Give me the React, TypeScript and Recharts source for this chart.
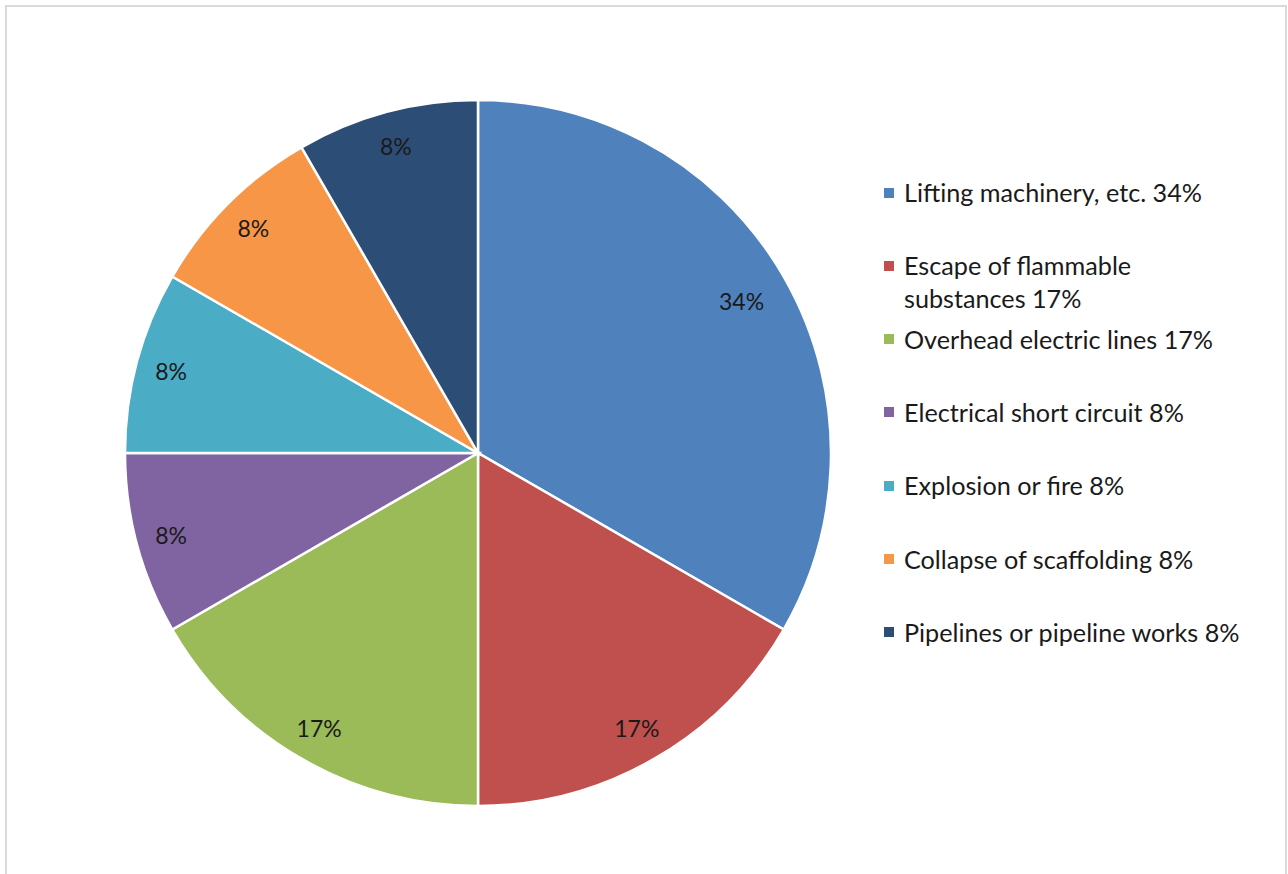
import React from 'react';
import { PieChart, Pie, Cell, Legend } from 'recharts';

const categories = [
  'Lifting machinery, etc.',
  'Escape of flammable substances',
  'Overhead electric lines',
  'Electrical short circuit',
  'Explosion or fire',
  'Collapse of scaffolding',
  'Pipelines or pipeline works',
];
const counts = [4, 2, 2, 1, 1, 1, 1];
const percentLabels = [34, 17, 17, 8, 8, 8, 8];
const colors = ['#4F81BD', '#C0504D', '#9BBB59', '#8064A2', '#4BACC6', '#F79646', '#2C4D75'];

const data = categories.map((name, i) => ({ name, value: counts[i], pct: percentLabels[i] }));

const FONT = 'Lato, "Open Sans", sans-serif';
const RAD = Math.PI / 180;

const renderLabel = (props: any) => {
  const { cx, cy, midAngle, outerRadius, index, percent } = props;
  const r = outerRadius * (percent > 0.3 ? 0.862 : 0.9);
  const x = cx + r * Math.cos(-midAngle * RAD);
  const y = cy + r * Math.sin(-midAngle * RAD);
  return (
    <text x={x} y={y} textAnchor="middle" dominantBaseline="central" fill="#1a1a1a" fontSize={23} fontFamily={FONT}>
      {percentLabels[index]}%
    </text>
  );
};

const renderLegend = () => (
  <div style={{ position: 'relative', width: 400, fontFamily: FONT, fontSize: 25.2, color: '#1a1a1a' }}>
    {data.map((d, i) => (
      <div key={d.name} style={{ position: 'absolute', left: 0, top: i * 73.3, display: 'flex', alignItems: 'flex-start' }}>
        <div style={{ width: 10, height: 10, background: colors[i], marginTop: 11.5, marginRight: 10, flexShrink: 0 }} />
        <div style={{ lineHeight: '33px', width: 342, whiteSpace: 'normal' }}>{`${d.name} ${d.pct}%`}</div>
      </div>
    ))}
  </div>
);

export default function App() {
  return (
    <div style={{ position: 'absolute', left: 0, top: 0, width: 1288, height: 874, background: '#fff', overflow: 'hidden' }}>
      <div style={{ position: 'absolute', left: 5, top: 5, width: 1278, height: 900, border: '2px solid #d9d9d9' }} />
      <PieChart width={1288} height={874} margin={{ top: 0, right: 0, bottom: 0, left: 0 }} style={{ position: 'absolute', left: 0, top: 0 }}>
        <Pie
          data={data}
          dataKey="value"
          nameKey="name"
          cx={478}
          cy={453}
          outerRadius={353}
          startAngle={90}
          endAngle={-270}
          stroke="#ffffff"
          strokeWidth={2.5}
          label={renderLabel}
          labelLine={false}
          isAnimationActive={false}
        >
          {data.map((d, i) => (
            <Cell key={d.name} fill={colors[i]} />
          ))}
        </Pie>
        <Legend
          content={renderLegend}
          layout="vertical"
          wrapperStyle={{ position: 'absolute', left: 884, top: 176, width: 400 }}
        />
      </PieChart>
    </div>
  );
}
